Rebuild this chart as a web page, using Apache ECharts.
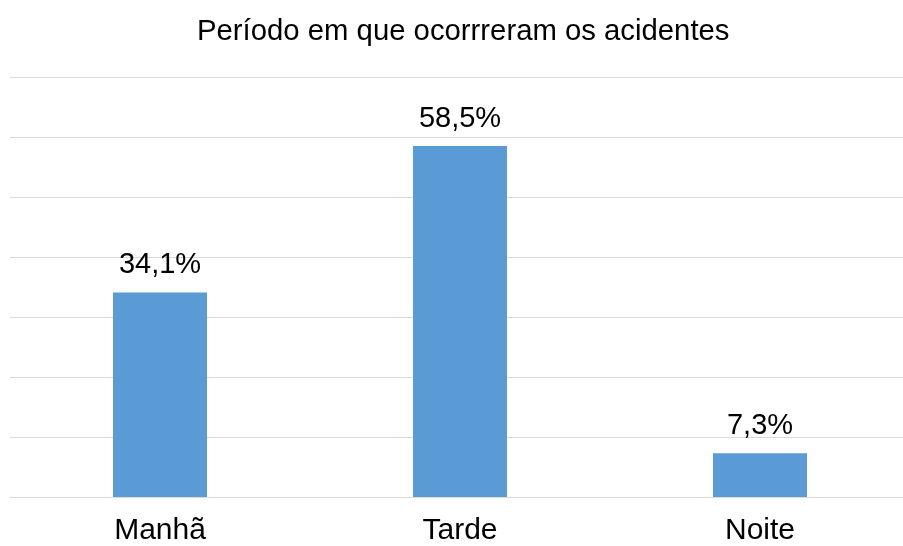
<!DOCTYPE html>
<html>
<head>
<meta charset="utf-8">
<script src="https://cdn.jsdelivr.net/npm/echarts@6/dist/echarts.min.js"></script>
<style>html,body{margin:0;padding:0;background:#fff;overflow:hidden;width:903px;height:546px;}#c{width:910px;height:546px;}</style>
</head>
<body>
<div id="c"></div>
<script>
const titleText = 'Período em que ocorrreram os acidentes';
const categories = ['Manhã', 'Tarde', 'Noite'];
const values = [34.1, 58.5, 7.3];
const axisMax = 70;
const axisInterval = 10;

const font = '"Liberation Sans", Arial, Helvetica, sans-serif';
const chart = echarts.init(document.getElementById('c'), null, {renderer: 'canvas'});
chart.setOption({
  animation: false,
  backgroundColor: '#ffffff',
  title: {
    text: titleText,
    left: 192,
    top: 12,
    textStyle: {fontFamily: font, fontSize: 29.3, fontWeight: 'normal', color: '#000'}
  },
  grid: {left: 10, top: 77, right: 0, height: 420, containLabel: false},
  xAxis: {
    type: 'category',
    data: categories,
    axisLine: {lineStyle: {color: '#d9d9d9', width: 1}},
    axisTick: {show: false},
    axisLabel: {fontFamily: font, fontSize: 30, color: '#000', margin: 19}
  },
  yAxis: {
    type: 'value',
    min: 0,
    max: axisMax,
    interval: axisInterval,
    axisLine: {show: false},
    axisTick: {show: false},
    axisLabel: {show: false},
    splitLine: {lineStyle: {color: '#d9d9d9', width: 1}}
  },
  series: [{
    type: 'bar',
    data: values,
    barWidth: 94,
    itemStyle: {color: '#5b9bd5'},
    label: {
      show: true,
      position: 'top',
      distance: 13,
      fontFamily: font,
      fontSize: 29,
      color: '#000',
      formatter: p => p.value.toFixed(1).replace('.', ',') + '%'
    }
  }]
});
</script>
</body>
</html>
